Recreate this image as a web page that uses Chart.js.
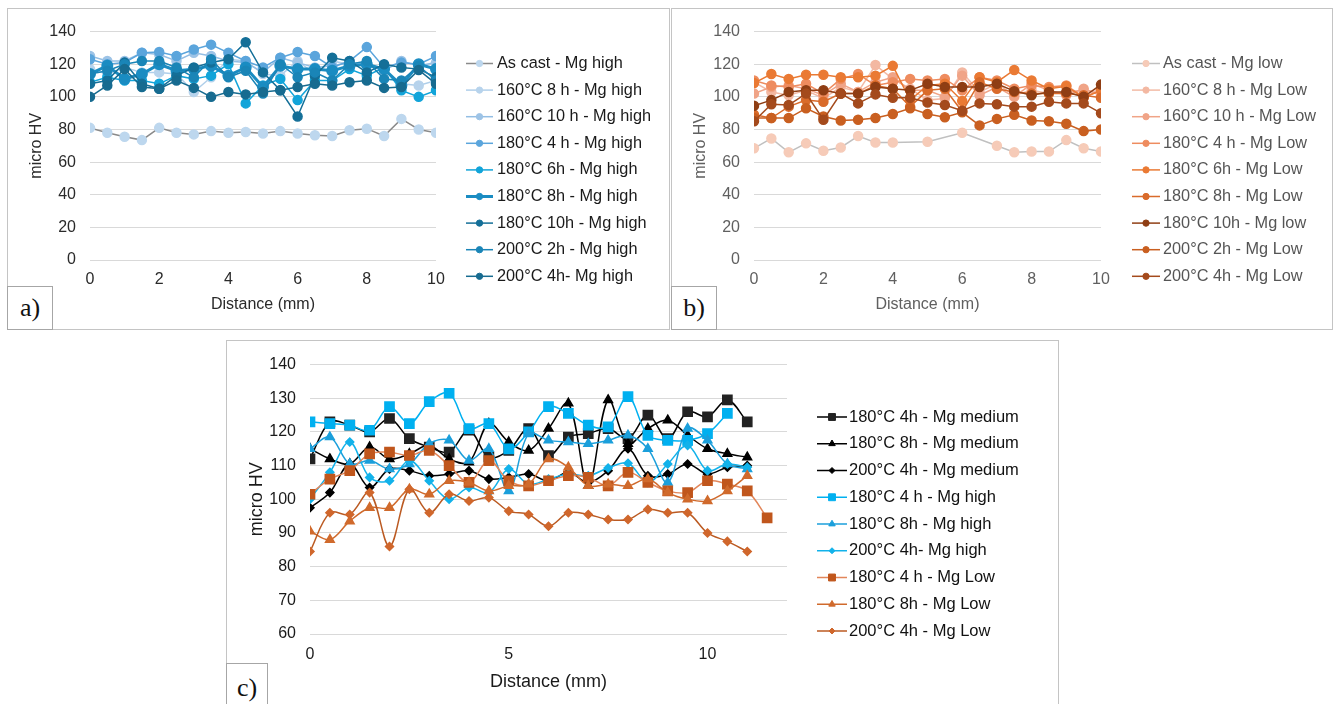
<!DOCTYPE html>
<html>
<head>
<meta charset="utf-8">
<script src="https://cdn.jsdelivr.net/npm/chart.js@4.4.1/dist/chart.umd.min.js"></script>
<style>
  body { margin: 0; width: 1336px; height: 704px; overflow: hidden; position: relative; background: #fff; }
  .frame { position: absolute; border: 1px solid #c4c4c4; box-sizing: border-box; }
  canvas { position: absolute; }
  .tag { position: absolute; border: 1px solid #a6a6a6; box-sizing: border-box; background: #fff;
         font-family: "Liberation Serif", "Times New Roman", serif; font-size: 26px; color: #111;
         display: flex; align-items: center; justify-content: center; }
</style>
</head>
<body>
<div class="frame" style="left:7px;top:8px;width:663px;height:322px"></div>
<div class="frame" style="left:671px;top:8px;width:662px;height:322px"></div>
<div class="frame" style="left:226px;top:340px;width:833px;height:380px"></div>

<canvas id="chart-a" width="662" height="320" style="left:7px;top:8px"></canvas>
<canvas id="chart-b" width="662" height="320" style="left:671px;top:8px"></canvas>
<canvas id="chart-c" width="832" height="363" style="left:226px;top:341px"></canvas>

<div class="tag" style="left:7px;top:286px;width:46px;height:44px">a)</div>
<div class="tag" style="left:671px;top:286px;width:46px;height:44px">b)</div>
<div class="tag" style="left:226px;top:663px;width:42px;height:50px">c)</div>

<script>
// distancias (mm)
const distAB = [0, 0.5, 1, 1.5, 2, 2.5, 3, 3.5, 4, 4.5, 5, 5.5, 6, 6.5, 7, 7.5, 8, 8.5, 9, 9.5, 10];
const distC = [0, 0.5, 1, 1.5, 2, 2.5, 3, 3.5, 4, 4.5, 5, 5.5, 6, 6.5, 7, 7.5, 8, 8.5, 9, 9.5, 10, 10.5, 11, 11.5];

// a) Mg high
const aLabels = ["As cast - Mg high", "160°C 8 h - Mg high", "160°C 10 h - Mg high", "180°C 4 h - Mg high",
  "180°C 6h - Mg high", "180°C 8h - Mg high", "180°C 10h - Mg high", "200°C 2h - Mg high", "200°C 4h- Mg high"];
const aAsCast = [81, 78, 75.5, 73.5, 81, 78, 77, 79, 78, 78.5, 77.5, 79, 77.5, 76.5, 76, 79.5, 80.5, 76, 86.5, 80, 78];
const a160_8 = [117, 114, 118, 115, 115, 114, 103, 112, 123, 122, 114, 113, 122, 114, 122, 120, 119, 116, 108, 107, 110];
const a160_10 = [125, 122, 122, 127, 126, 122, 127, 125, 122, 121, 115, 124, 121, 118, 119, 121, 120, 116, 122, 119, 121];
const a180_4 = [123, 120, 121, 127, 127.5, 125, 129, 132, 127, 122, 118, 124, 127.5, 125, 118, 122, 130.5, 118, 121, 120, 125];
const a180_6 = [109, 112, 110, 110, 108, 113, 111, 113, 120, 96, 107, 111, 98, 110, 110, 117, 113, 118, 104, 100, 104];
const a180_8 = [114, 119, 111, 114, 120, 116, 117, 119, 113, 118, 106, 119, 117, 117, 116, 119, 120, 117, 107, 120, 117];
const a180_10 = [108, 110, 121, 108, 105, 113, 118, 121, 123, 133.5, 115, 104, 88, 113, 124, 122, 115, 120, 118, 117, 112];
const a200_2 = [114, 116, 120, 122, 122, 118, 112, 123, 112, 116, 102, 120, 112, 115, 110, 120, 122, 111, 110, 119, 110];
const a200_4 = [100, 107, 117, 106, 105, 110, 105.5, 100, 103, 101.5, 103, 104, 106, 108, 107, 109, 110, 105.5, 106, 116.5, 108];

// b) Mg low
const bLabels = ["As cast - Mg low", "160°C 8 h - Mg Low", "160°C 10 h - Mg Low", "180°C 4 h - Mg Low",
  "180°C 6h - Mg Low", "180°C 8h - Mg Low", "180°C 10h - Mg low", "200°C 2h - Mg Low", "200°C 4h - Mg Low"];
const bAsCast = [68.5, 74.5, 66, 71.5, 67, 69, 76, 72, 72, null, 72.5, null, 78, null, 70, 66, 66.5, 66.5, 73.5, 68.5, 66.5];
const b160_8 = [109, 103, 101, 104, 99, 106, 103, 119.5, 111, 105, 98, 99, 115, 103, 108, 101, 104, 102, 103, 104, 103];
const b160_10 = [102, 106, 107, 105, 101, 108, 103, 109, 112, 104, 104, 100, 113, 101, 106, 100, 108, 104, 101, 105, 101];
const b180_4 = [110, 107, 106, 108, 102, 111, 114, 107, 109, 111, 110, 111, 104, 112, 110, 105, 107, 106, 107, 100, 104];
const b180_6 = [108.5, 114, 111, 113.5, 113.5, 112, 112, 113, 119, 98, 107, 108, 97.5, 112, 109, 116.5, 110, 105, 106.5, 99.5, 104];
const b180_8 = [89, 87, 94, 98, 97, 102, 102, 107, 105, 94, 104, 105, 91, 109, 105, 103, 102, 102, 102, 101, 99.5];
const b180_10 = [94.5, 98, 103, 104, 104, 102, 102, 106, 105, 104, 108, 106, 106, 106, 108, 103.5, 101, 103, 103, 100, 107.5];
const b200_2 = [87, 87, 87, 93, 88, 85.5, 86, 87, 89.5, 93, 89.5, 87.5, 90.5, 82.5, 86.5, 89, 85.5, 85, 83.5, 79, 80];
const b200_4 = [85, 95.5, 95, 102, 86, 102, 96, 101.5, 99.5, 99.5, 96.5, 95, 91.5, 96, 95.5, 94, 94, 97, 96, 96, 90];

// c) comparacao
const cLabels = ["180°C 4h - Mg medium", "180°C 8h - Mg medium", "200°C 4h - Mg medium", "180°C 4 h - Mg high",
  "180°C 8h - Mg high", "200°C 4h- Mg high", "180°C 4 h - Mg Low", "180°C 8h - Mg Low", "200°C 4h - Mg Low"];
const cMed4 = [112, 123, 122, 120, 124, 118, 115.5, 114, 120.5, 112.5, 114.5, 121, 113, 118.5, 119.5, 121, 118, 125, 118, 126, 124.5, 129.5, 123];
const cMed8 = [115, 112, 110.5, 115.5, 112, 113.5, 116, 112, 111, 122.5, 117, 114.5, 121, 128.5, 104, 129.5, 116.5, 121, 123.5, 119, 115, 113.5, 112.5];
const cMed200 = [97.5, 102, 110.5, 103.5, 109, 108.5, 107, 107.5, 108.5, 106, 106.5, 107.5, 105.5, 108, 105, 108.5, 115, 107, 107.5, 110.5, 107.5, 109.5, 110];
const cHi4 = [123, 122.5, 122, 120.5, 127.5, 122.5, 129, 131.5, 121, 122.5, 115, 120, 127.5, 125.5, 122, 121.5, 130.5, 119, 117.5, 117.5, 119.5, 125.5];
const cHi8 = [115, 118.5, 110.5, 111.5, 109, 110.5, 116.5, 117.5, 111.5, 115, 102.5, 119.5, 117.5, 117, 116.5, 117.5, 119, 115, 105, 121, 117.5, 110.5, 109];
const cHi200 = [100, 108, 117, 106.5, 105.5, 111.5, 105.5, 100, 103.5, 102, 109, 104.5, 106, 107.5, 107, 109.3, 110.7, 105, 110.5, 116, 108.5, 110.5, 109.5];
const cLow4 = [101.5, 106, 108.5, 113.5, 114, 113, 114.5, 110, 105, 111.5, 105.5, 104, 105.5, 107, 106.5, 104, 108, 105, 102.5, 102, 105.5, 104.5, 102.5, 94.5];
const cLow8 = [90.5, 88, 93.5, 97.5, 97.5, 103, 101.5, 105.5, 105, 102.5, 104, 104.5, 112, 109.5, 104, 104.5, 104, 106, 102, 100, 99.5, 102.5, 107];
const cLow200 = [84.5, 96, 95.5, 102, 86, 103, 96, 101.5, 99.5, 100.5, 96.5, 95.5, 92, 96, 95.5, 94, 94, 97, 96, 96, 90, 87.5, 84.5];

Chart.defaults.font.family = '"Liberation Sans", Arial, sans-serif';

// legenda estilo Excel: linha + marcador
const lineLegend = {
  id: "lineLegend",
  afterDraw(chart, args, o) {
    const ctx = chart.ctx;
    ctx.save();
    ctx.font = o.size + 'px "Liberation Sans", Arial, sans-serif';
    ctx.textBaseline = "middle";
    ctx.textAlign = "left";
    chart.data.datasets.forEach((d, i) => {
      const y = o.y + i * o.gap;
      ctx.strokeStyle = d.borderColor;
      ctx.lineWidth = d.borderWidth;
      ctx.beginPath();
      ctx.moveTo(o.x, y);
      ctx.lineTo(o.x + o.len, y);
      ctx.stroke();
      ctx.fillStyle = d.pointBackgroundColor;
      ctx.strokeStyle = d.pointBorderColor;
      ctx.lineWidth = 1;
      Chart.helpers.drawPoint(ctx, { pointStyle: d.pointStyle, radius: d.pointRadius * o.mk, rotation: 0, borderWidth: 1 }, o.x + o.len / 2, y);
      ctx.fillStyle = o.color;
      ctx.fillText(d.label, o.x + o.len + o.textGap, y);
    });
    ctx.restore();
  }
};

function series(label, vals, dist, st, i) {
  return {
    label,
    data: vals.map((v, k) => ({ x: dist[k], y: v })),
    borderColor: st.line,
    backgroundColor: st.mark,
    pointBackgroundColor: st.mark,
    pointBorderColor: st.mark,
    pointStyle: st.shape || "circle",
    pointRadius: st.r || 4.5,
    borderWidth: st.w || 1.5,
    tension: st.t || 0,
    spanGaps: true,
    order: 100 - i
  };
}

function axes(o) {
  return {
    x: {
      type: "linear", min: o.xMin, max: o.xMax,
      grid: { display: false, drawTicks: false }, border: { display: false },
      ticks: { stepSize: o.xStep, padding: o.xPad, color: o.color, font: { size: o.tick } },
      afterBuildTicks: s => { s.ticks = s.ticks.filter(t => t.value % o.xStep === 0); },
      afterFit: s => { s.height = o.xH; },
      title: { display: true, text: "Distance (mm)", color: o.color, font: { size: o.title }, padding: { top: 0, bottom: o.xTitlePad } }
    },
    y: {
      min: o.yMin, max: o.yMax,
      grid: { color: "#d9d9d9", drawTicks: false }, border: { display: false },
      ticks: { stepSize: o.yStep, padding: o.yPad, color: o.color, font: { size: o.tick } },
      afterFit: s => { s.width = o.yW; },
      title: { display: true, text: "micro HV", color: o.color, font: { size: o.title }, padding: { top: o.yTitlePad, bottom: 0 } }
    }
  };
}

function makeChart(id, datasets, o, legend, pad) {
  return new Chart(document.getElementById(id), {
    type: "line",
    data: { datasets },
    options: {
      responsive: false, animation: false, events: [],
      layout: { padding: pad },
      plugins: { legend: { display: false }, tooltip: { enabled: false }, lineLegend: legend },
      scales: axes(o)
    },
    plugins: [lineLegend]
  });
}

// a)
const aVals = [aAsCast, a160_8, a160_10, a180_4, a180_6, a180_8, a180_10, a200_2, a200_4];
const aStyle = [
  { line: "#8a8a8a", mark: "#bdd7ee" },
  { line: "#b0cfea", mark: "#b7d3ec" },
  { line: "#93bee4", mark: "#9dc3e6" },
  { line: "#5ba5dc", mark: "#5ba5dc" },
  { line: "#12a4d9", mark: "#12a4d9" },
  { line: "#1a8cc2", mark: "#1a8cc2", w: 3 },
  { line: "#146f98", mark: "#146f98" },
  { line: "#1a85b7", mark: "#1a85b7" },
  { line: "#176b90", mark: "#176b90" }
];
makeChart("chart-a", aVals.map((v, i) => series(aLabels[i], v, distAB, aStyle[i], i)), {
  xMin: 0, xMax: 10, xStep: 2, yMin: 0, yMax: 140, yStep: 20,
  color: "#2a2a2a", tick: 16, title: 16, xPad: 10, yPad: 14, xH: 68, yW: 83, xTitlePad: 14, yTitlePad: 20
}, { x: 459, y: 55.5, gap: 26.6, len: 27, textGap: 4, size: 16.3, color: "#1a1a1a", mk: 0.7 },
  { top: 16, right: 233, left: 0, bottom: 0 });

// b)
const bVals = [bAsCast, b160_8, b160_10, b180_4, b180_6, b180_8, b180_10, b200_2, b200_4];
const bStyle = [
  { line: "#c0c0c0", mark: "#f6cbb8" },
  { line: "#f3bba6", mark: "#f3b8a2" },
  { line: "#f0a487", mark: "#f0a487" },
  { line: "#ee8c5f", mark: "#ee8c5f" },
  { line: "#ea7a34", mark: "#ea7a34" },
  { line: "#d96b2b", mark: "#d96b2b" },
  { line: "#8f3e14", mark: "#8f3e14" },
  { line: "#c95f20", mark: "#c95f20" },
  { line: "#a44a1c", mark: "#a44a1c" }
];
makeChart("chart-b", bVals.map((v, i) => series(bLabels[i], v, distAB, bStyle[i], i)), {
  xMin: 0, xMax: 10, xStep: 2, yMin: 0, yMax: 140, yStep: 20,
  color: "#606060", tick: 16, title: 16, xPad: 10, yPad: 14, xH: 68, yW: 83, xTitlePad: 14, yTitlePad: 20
}, { x: 461, y: 55.5, gap: 26.6, len: 28, textGap: 3, size: 16.3, color: "#555555", mk: 0.7 },
  { top: 16, right: 232, left: 0, bottom: 0 });

// c)
const cVals = [cMed4, cMed8, cMed200, cHi4, cHi8, cHi200, cLow4, cLow8, cLow200];
const cStyle = [
  { line: "#000000", mark: "#222222", shape: "rect", r: 6.5, t: 0.35 },
  { line: "#000000", mark: "#000000", shape: "triangle", r: 5, t: 0.35 },
  { line: "#000000", mark: "#000000", shape: "rectRot", r: 4, t: 0.35 },
  { line: "#00b0f0", mark: "#00b0f0", shape: "rect", r: 6.5, t: 0.35 },
  { line: "#1b9fdb", mark: "#1b9fdb", shape: "triangle", r: 5, t: 0.35 },
  { line: "#12b2ea", mark: "#12b2ea", shape: "rectRot", r: 4, t: 0.35 },
  { line: "#e2865a", mark: "#c0561c", shape: "rect", r: 6.5, t: 0.35 },
  { line: "#d06a2c", mark: "#d06a2c", shape: "triangle", r: 5, t: 0.35 },
  { line: "#bb5a22", mark: "#d0672c", shape: "rectRot", r: 4, t: 0.35 }
];
makeChart("chart-c", cVals.map((v, i) => series(cLabels[i], v, distC, cStyle[i], i)), {
  xMin: 0, xMax: 12, xStep: 5, yMin: 60, yMax: 140, yStep: 10,
  color: "#1a1a1a", tick: 16, title: 18, xPad: 11, yPad: 14, xH: 70, yW: 84, xTitlePad: 11, yTitlePad: 20
}, { x: 591, y: 76, gap: 26.75, len: 30, textGap: 2, size: 16.5, color: "#111111", mk: 0.75 },
  { top: 16, right: 271, left: 0, bottom: 0 });
</script>
</body>
</html>
